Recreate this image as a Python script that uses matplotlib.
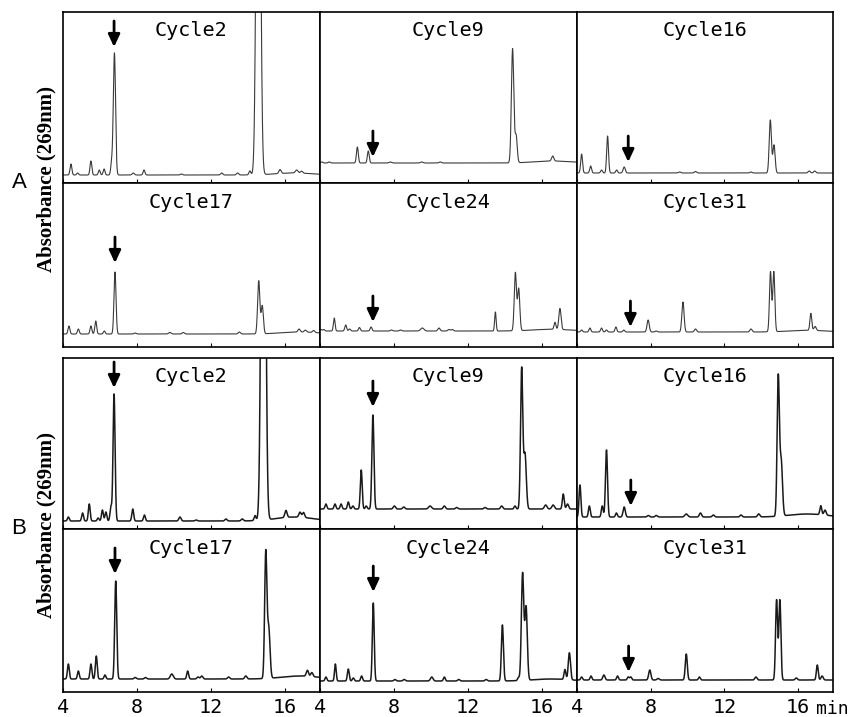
import numpy as np
import matplotlib
matplotlib.use('Agg')
import matplotlib.pyplot as plt

# ---------------- data (retention time [min], height [a.u.], sigma [min]) ----------------
A_C2 = [(4.43, 11, .05), (4.79, 2, .05), (5.51, 14, .05), (5.96, 5, .05), (6.22, 6, .05),
        (6.63, 12, .05), (6.78, 122, .06), (7.8, 2, .06), (8.38, 5, .05), (10.4, 1, .06),
        (12.58, 2, .06), (13.44, 2, .06), (14.1, 4, .05), (14.56, 600, .1), (15.73, 4, .06),
        (16.63, 3, .07), (16.9, 2, .06), (16.5, 2, 1.0)]
A_C9 = [(4.1, 1, .06), (4.5, 1, .06), (6.02, 16, .05), (6.61, 12, .05), (7.8, 1, .07),
        (9.5, 1, .07), (10.5, 1, .07), (14.41, 114, .065), (14.6, 27, .06), (16.58, 5, .06),
        (16.6, 2, 1.0)]
A_C16 = [(4.25, 19, .05), (4.74, 7, .05), (5.33, 3, .05), (5.66, 37, .05), (6.15, 3, .05),
         (6.56, 6, .06), (9.57, 1, .07), (10.43, 1.5, .06), (13.44, 1, .06), (14.49, 53, .06),
         (14.69, 28, .06), (16.6, 2, .06), (16.9, 2, .06)]
A_C17 = [(4.32, 8, .05), (4.83, 5, .05), (5.51, 8, .05), (5.77, 13, .05), (6.23, 3, .05),
         (6.81, 62, .055), (7.9, 1, .06), (9.78, 1.5, .07), (10.5, 1.5, .06), (13.53, 2, .06),
         (14.58, 53, .06), (14.77, 28, .06), (16.76, 3, .06), (17.1, 2, .06), (17.55, 2, .06),
         (16.8, 2, 1.0)]
A_C24 = [(4.05, 1.5, .05), (4.2, 1.5, .05), (4.77, 13, .045), (5.39, 6, .05), (5.6, 2, .05),
         (6.13, 3.5, .05), (6.76, 4, .05), (7.86, 1, .06), (8.36, 1, .06), (9.53, 3, .09),
         (10.43, 3, .06), (10.97, 1.5, .06), (11.15, 1.5, .06), (13.48, 19, .04), (14.56, 58, .06),
         (14.74, 42, .06), (16.7, 7, .05), (16.97, 21, .06), (16.5, 1.7, 1.0)]
A_C31 = [(4.25, 2, .05), (4.7, 4, .05), (5.33, 4, .05), (5.6, 2, .05), (6.11, 5, .05),
         (6.54, 2, .05), (7.86, 12, .06), (8.3, 1, .06), (9.75, 30, .06), (10.43, 3, .06),
         (13.44, 3, .06), (14.5, 60, .055), (14.68, 60, .055), (16.69, 17, .05), (16.92, 4, .06),
         (16.5, 1.7, 1.0)]
B_C2 = [(4.29, 4, .05), (5.06, 8, .05), (5.42, 17, .05), (5.9, 3, .05), (6.13, 11, .05),
        (6.32, 9, .05), (6.59, 14, .05), (6.76, 127, .055), (7.77, 12, .05), (8.4, 6, .05),
        (10.32, 4, .06), (11.2, 1, .06), (12.81, 2, .06), (13.69, 2, .06), (14.38, 5, .05),
        (14.83, 700, .1), (16.05, 7, .06), (16.81, 5, .06), (17.0, 5, .06), (16.5, 4, 1.0)]
B_C9 = [(4.32, 5, .05), (4.81, 5, .05), (5.14, 5, .05), (5.53, 7, .05), (5.78, 3, .05),
        (6.23, 39, .05), (6.5, 3, .05), (6.86, 94, .055), (8.02, 3, .06), (8.53, 2, .06),
        (9.95, 3, .08), (10.72, 3, .06), (11.39, 1.5, .06), (12.92, 1.5, .06), (13.82, 3, .06),
        (14.54, 3, .05), (14.9, 140, .06), (15.08, 55, .07), (16.2, 4, .07), (16.6, 4, .07),
        (17.15, 15, .05), (17.38, 5, .06)]
B_C16 = [(4.16, 32, .05), (4.67, 11, .05), (5.37, 11, .05), (5.6, 67, .055), (6.14, 4, .05),
         (6.56, 10, .06), (7.87, 1.5, .06), (8.3, 1.5, .06), (9.93, 3, .08), (10.7, 4, .06),
         (11.4, 2, .06), (12.9, 2, .06), (13.86, 3, .06), (14.92, 138, .06), (15.08, 55, .07),
         (17.23, 9, .05), (17.46, 5, .06), (16.5, 3, 1.0)]
B_C17 = [(4.29, 15, .05), (4.83, 8, .05), (5.51, 15, .05), (5.8, 23, .05), (6.27, 4, .05),
         (6.85, 98, .055), (7.9, 1.5, .06), (8.46, 1.5, .06), (9.88, 5, .08), (10.74, 8, .05),
         (11.3, 2, .06), (11.5, 3, .06), (12.95, 2, .06), (13.88, 3, .06), (14.96, 125, .06),
         (15.12, 50, .07), (17.21, 6, .06), (17.45, 4, .06), (16.8, 3, 1.0)]
B_C24 = [(4.32, 4, .05), (4.83, 17, .045), (5.53, 12, .05), (5.8, 3, .05), (6.25, 5, .05),
         (6.88, 78, .05), (8.05, 1.5, .06), (8.55, 1.5, .06), (10.04, 4, .07), (10.72, 4, .05),
         (11.5, 1.5, .06), (12.98, 1.5, .06), (13.86, 56, .055), (14.73, 3, .05), (14.95, 107, .065),
         (15.14, 73, .065), (17.24, 10, .05), (17.48, 27, .06), (16.5, 2, 1.0)]
B_C31 = [(4.25, 3, .05), (4.76, 4, .05), (5.46, 5, .06), (6.2, 4, .05), (6.78, 3, .05),
         (6.92, 3, .05), (7.95, 10, .06), (8.4, 1.5, .06), (9.93, 26, .055), (10.64, 3, .05),
         (13.71, 3, .06), (14.83, 80, .055), (15.01, 80, .055), (15.9, 2, .06), (17.04, 15, .05),
         (17.3, 4, .06)]

titles = ["Cycle2", "Cycle9", "Cycle16", "Cycle17", "Cycle24", "Cycle31"]
baseline_A = [8, 20, 10, 13, 16, 15]
baseline_B = [8, 20, 12, 13, 11, 12]
arrow_t_A = [6.76, 6.86, 6.78, 6.81, 6.86, 6.90]
arrow_t_B = [6.76, 6.86, 6.92, 6.81, 6.88, 6.80]
arrow_tip_A = [128, 6, 11, 71, 9, 5]      # height of arrow tip above baseline
arrow_tip_B = [133, 102, 11, 105, 89, 8]
xtick_vals = [4, 8, 12, 16]
xtick_labels = ["4", "8", "12", "16"]
group_labels = ["A", "B"]
ylabel_text = "Absorbance (269nm)"

# ---------------- layout ----------------
W, H = 853, 717
fig = plt.figure(figsize=(W / 100, H / 100), dpi=100)

col_edges = [(63, 320), (320, 577), (577, 833)]
row_edges = [(12, 183), (183, 347), (358, 529), (529, 692)]
T0, T1 = 4.0, 4.0 + 257 / 18.5

traces = [A_C2, A_C9, A_C16, A_C17, A_C24, A_C31, B_C2, B_C9, B_C16, B_C17, B_C24, B_C31]
baselines = baseline_A + baseline_B
arrow_t = arrow_t_A + arrow_t_B
arrow_tip = arrow_tip_A + arrow_tip_B

tgrid = np.linspace(3.9, 18.0, 4000)

for i, peaks in enumerate(traces):
    r, c = divmod(i, 3)
    x0, x1 = col_edges[c]
    y0, y1 = row_edges[r]
    ax = fig.add_axes([x0 / W, 1 - y1 / H, (x1 - x0) / W, (y1 - y0) / H])
    hpx = y1 - y0
    base = baselines[i]
    y = np.full_like(tgrid, float(base))
    for (t0, h, s) in peaks:
        y += h * np.exp(-0.5 * ((tgrid - t0) / s) ** 2)
    groupB = r >= 2
    ax.plot(tgrid, y, color='#1a1a1a' if groupB else '#3a3a3a',
            lw=1.1 if groupB else 0.8, solid_joinstyle='round')
    ax.set_xlim(T0, T1)
    ax.set_ylim(0, hpx)
    for sp in ax.spines.values():
        sp.set_linewidth(1.2)
        sp.set_color('black')
    ax.set_yticks([])
    ax.set_xticks(xtick_vals)
    ax.tick_params(axis='x', direction='in', length=3, width=0.8, pad=4)
    if r == 3:
        ax.set_xticklabels(xtick_labels, fontsize=14.5, family='DejaVu Sans Mono')
    else:
        ax.set_xticklabels([])
    ax.text(0.5, 1 - 19 / hpx, titles[i % 6], transform=ax.transAxes, ha='center',
            va='center', fontsize=14.5, family='DejaVu Sans Mono')
    tip = base + arrow_tip[i]
    ax.annotate('', xy=(arrow_t[i], tip), xytext=(arrow_t[i], tip + 26),
                arrowprops=dict(arrowstyle='-|>,head_length=0.75,head_width=0.35',
                                lw=2.0, color='black', shrinkA=0, shrinkB=0))

# "min" unit label
fig.text(816 / W, 1 - 709 / H, "min", fontsize=13, family='DejaVu Sans Mono',
         ha='left', va='center')

# group labels and y labels
for g, (yc, lab) in enumerate(zip([179, 525], group_labels)):
    fig.text(19 / W, 1 - (183 if g == 0 else 528) / H, lab, fontsize=16,
             family='Liberation Sans', ha='center', va='center')
    fig.text(46 / W, 1 - yc / H, ylabel_text, rotation=90, fontsize=15,
             family='Liberation Serif', fontweight='bold', ha='center', va='center')

fig.savefig('out.png', dpi=100)
